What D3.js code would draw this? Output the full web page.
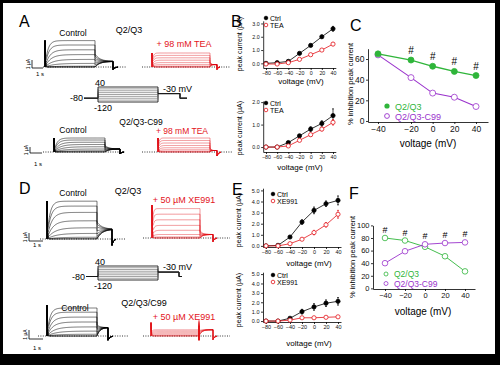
<!DOCTYPE html>
<html lang="en">
<head>
  <meta charset="UTF-8">
  <title>KCNQ2/3 currents, TEA and XE991</title>
  <style>
    body { margin: 0; background: #fff; }
    svg { display: block; }
  </style>
  <script src="https://d3js.org/d3.v7.min.js"></script>
</head>
<body>
  <div id="chart"></div>

  <script>
    // ---- data ----
    const ivVolt = [-80, -60, -40, -20, 0, 20, 40];
    const bTopCtrl = [0, 0.05, 0.15, 0.75, 1.35, 2.0, 2.6];
    const bTopCtrlErr = [0, 0, 0, 0.05, 0.08, 0.12, 0.18];
    const bTopTea = [-0.05, -0.05, 0.05, 0.3, 0.65, 1.0, 1.45];
    const bTopTeaErr = [0, 0, 0, 0.04, 0.06, 0.08, 0.12];
    const bBotCtrl = [0, 0, 0.2, 0.5, 0.8, 1.05, 1.4];
    const bBotCtrlErr = [0, 0, 0.03, 0.06, 0.1, 0.12, 0.3];
    const bBotTea = [0, 0, 0.05, 0.3, 0.55, 0.8, 1.1];
    const bBotTeaErr = [0, 0, 0.02, 0.04, 0.06, 0.08, 0.12];

    const eTopCtrl = [0, 0.05, 0.8, 2.15, 3.2, 3.8, 4.1];
    const eTopCtrlErr = [0, 0, 0.08, 0.2, 0.3, 0.25, 0.4];
    const eTopXe = [0, 0, 0.2, 0.6, 1.2, 1.9, 2.85];
    const eTopXeErr = [0, 0, 0.05, 0.1, 0.2, 0.2, 0.35];
    const eBotCtrl = [0, 0, 0.3, 1.0, 1.5, 1.9, 2.1];
    const eBotCtrlErr = [0, 0, 0.05, 0.25, 0.35, 0.35, 0.4];
    const eBotXe = [0, 0, 0.1, 0.35, 0.35, 0.4, 0.45];
    const eBotXeErr = [0, 0, 0.03, 0.05, 0.05, 0.06, 0.06];

    const inhVolt = [-40, -20, 0, 20, 40];
    const cQ23 = [65, 59, 53, 48, 44];
    const cC99 = [64, 42, 27, 23, 14];
    const cHash = [-20, 0, 20, 40];
    const fQ23 = [80, 76, 66, 51, 27];
    const fC99 = [40, 59, 70, 72, 73];
    const fHash = [-40, -20, 0, 20, 40];

    const ivTicks = [-80, -60, -40, -20, 0, 20, 40];
    const inhTicks = [-40, -20, 0, 20, 40];

    // voltage protocol steps (mV)
    const stepVolts = [-120, -100, -80, -60, -40, -20, 0, 20, 40];

    // steady current per sweep (uA), largest step first, and rise time constants (s)
    const aTopCtrl = [3.3, 2.75, 2.15, 1.55, 0.95, 0.45, 0.1, 0, 0];
    const aTopTea = [1.75, 1.45, 1.15, 0.85, 0.55, 0.3, 0.1, 0, 0];
    const aBotCtrl = [2.8, 2.4, 1.95, 1.5, 1.05, 0.6, 0.25, 0.05, 0];
    const aBotTea = [2.8, 2.3, 1.8, 1.3, 0.85, 0.45, 0.15, 0, 0];
    const dTopCtrl = [5.4, 4.7, 3.8, 2.6, 1.6, 0.8, 0.25, 0.05, 0];
    const dTopXe = [4.2, 3.4, 2.6, 1.8, 1.1, 0.5, 0.15, 0, 0];
    const dBotCtrl = [4.0, 3.4, 2.7, 2.0, 1.3, 0.7, 0.25, 0, 0];
    const dBotXe = [0.9, 0.75, 0.6, 0.45, 0.3, 0.15, 0.05, 0, 0];
    const tauSlow = [0.25, 0.3, 0.4, 0.5, 0.65, 0.8, 0.9, 0.9, 0.9];
    const tauFast = [0.08, 0.09, 0.1, 0.12, 0.14, 0.16, 0.18, 0.2, 0.2];

    const FONT = "'Liberation Sans', Arial, sans-serif";
    const RED = "#e3141b";
    const GREEN = "#2fb53a";
    const PURPLE = "#9a32cc";

    const svg = d3.select("#chart").append("svg")
        .attr("width", 500)
        .attr("height", 365)
        .style("font-family", FONT);

    svg.append("rect").attr("width", 500).attr("height", 365).attr("fill", "#000");
    svg.append("rect").attr("x", 3).attr("y", 3).attr("width", 492).attr("height", 351).attr("fill", "#fff");

    function text(x, y, s, size, opts = {}) {
      const t = svg.append("text")
          .attr("x", x).attr("y", y)
          .attr("font-size", size)
          .attr("fill", opts.color || "#000")
          .attr("text-anchor", opts.anchor || "start")
          .text(s);
      if (opts.rotate) t.attr("transform", `rotate(-90,${x},${y})`);
      return t;
    }

    // panel letters
    [["A", 19, 27], ["B", 231, 27], ["C", 350, 31], ["D", 19, 194], ["E", 232, 195], ["F", 349, 199]]
      .forEach(([s, x, y]) => text(x, y, s, 16));

    // ---- current traces ----
    // each sweep is rebuilt from its read steady level with a first-order rise
    function traces(o) {
      const t = [4.5, 1.5, 0.4];
      const x = d3.scaleLinear()
          .domain([0, t[0], t[0] + t[1], t[0] + t[1] + t[2]])
          .range(o.xr);
      const y = d3.scaleLinear().domain([0, 1]).range([o.base, o.base - o.k]);
      const line = d3.line().x(d => x(d[0])).y(d => y(d[1]));

      svg.append("line")
          .attr("x1", o.dot[0]).attr("x2", o.dot[1])
          .attr("y1", o.base).attr("y2", o.base)
          .attr("stroke", "#000").attr("stroke-width", 0.8)
          .attr("stroke-dasharray", "1,1.4");

      o.levels.forEach((L, i) => {
        const tau = o.taus[i];
        const pts = [[0, 0], [0, o.spike]];
        d3.range(1, 151).forEach(j => {
          const tt = t[0] * j / 150;
          pts.push([tt, o.spike * Math.exp(-tt / 0.03) + L * (1 - Math.exp(-tt / tau))]);
        });
        const t0 = L * o.tailFrac;
        if (o.endSpike) {
          pts.push([t[0], L + o.endSpike[0]]);
          pts.push([t[0], o.endSpike[1]]);
        }
        d3.range(0, 61).forEach(j => {
          const tt = t[1] * j / 60;
          pts.push([t[0] + tt, o.tailSS + (t0 - o.tailSS) * Math.exp(-tt / o.tailTau)]);
        });
        d3.range(0, 21).forEach(j => {
          const tt = t[2] * j / 20;
          pts.push([t[0] + t[1] + tt, -o.dip * Math.exp(-tt / 0.15)]);
        });
        svg.append("path")
            .attr("d", line(pts))
            .attr("fill", "none")
            .attr("stroke", o.color)
            .attr("stroke-width", o.lw || 0.55);
      });
    }

    function scaleBar(x, y, h, w, sLabelY) {
      svg.append("path")
          .attr("d", `M${x},${y - h}V${y}H${x + w}`)
          .attr("fill", "none").attr("stroke", "#000").attr("stroke-width", 0.8);
      text(x - 2, y - h / 2, "1 µA", 5, { rotate: true, anchor: "middle" });
      text(x + 4, sLabelY, "1 s", 6);
    }

    function protocol(o) {
      const y = d3.scaleLinear().domain([-120, 40]).range([o.bottom, o.top]);
      const line = d3.line();
      stepVolts.forEach((v, i) => {
        const pts = [[o.xs[0], y(-80)], [o.xs[1], y(-80)], [o.xs[1], y(v)], [o.xs[2], y(v)],
                     [o.xs[2], y(-30)], [o.xs[3], y(-30)], [o.xs[3], y(-80)], [o.xs[4], y(-80)]];
        const outer = i === 0 || i === stepVolts.length - 1;
        svg.append("path")
            .attr("d", line(pts))
            .attr("fill", "none")
            .attr("stroke", outer ? "#000" : "#666")
            .attr("stroke-width", outer ? 0.8 : 0.6);
      });
      text(o.xs[1] - 3, o.top - 1, "40", 9);
      text(o.xs[0] - 1, y(-80) + 3, "-80", 9, { anchor: "end" });
      text(o.xs[1] - 4, o.bottom + 9, "-120", 9);
      text(o.xs[2] + 5, y(-30) - 2, "-30 mV", 9);
    }

    // Panel A
    text(73, 36, "Control", 8.5, { anchor: "middle" });
    text(129, 33, "Q2/Q3", 9, { anchor: "middle" });
    text(184, 47, "+ 98 mM TEA", 9, { anchor: "middle", color: RED });
    traces({ xr: [45, 95, 113, 118], base: 67, k: 8, spike: 3.3, levels: aTopCtrl, taus: tauSlow,
             tailFrac: 0.5, tailSS: 0.7, tailTau: 0.4, dip: 0.3, color: "#000", dot: [43, 127] });
    traces({ xr: [152, 210, 217, 220], base: 67, k: 8, spike: 1.75, levels: aTopTea, taus: tauFast,
             tailFrac: 0.4, tailSS: 0.3, tailTau: 0.2, dip: 0.3, color: RED, dot: [142, 230], lw: 0.45 });
    scaleBar(32, 68, 8, 11, 76);
    protocol({ xs: [84, 98, 158, 180, 187], top: 87, bottom: 102 });

    text(141, 125, "Q2/Q3-C99", 8.5, { anchor: "middle" });
    text(73, 133, "Control", 8.5, { anchor: "middle" });
    text(182, 134, "+ 98 mM TEA", 8.5, { anchor: "middle", color: RED });
    traces({ xr: [54, 105, 120, 124], base: 152, k: 5, spike: 2.8, levels: aBotCtrl, taus: tauSlow,
             tailFrac: 0.45, tailSS: 0.6, tailTau: 0.4, dip: 0.4, color: "#000", dot: [43, 125] });
    traces({ xr: [158, 210, 217, 221], base: 152, k: 5, spike: 2.8, levels: aBotTea, taus: tauFast,
             tailFrac: 0.35, tailSS: 0.3, tailTau: 0.2, dip: 0.8, color: RED, dot: [142, 233], lw: 0.45 });
    scaleBar(30, 153, 6, 12, 166);

    // Panel D
    text(73, 196, "Control", 8.5, { anchor: "middle" });
    text(128, 194, "Q2/Q3", 9, { anchor: "middle" });
    text(184, 203, "+ 50 µM XE991", 9, { anchor: "middle", color: RED });
    traces({ xr: [47, 97, 112, 116], base: 239, k: 7, spike: 5.4, levels: dTopCtrl, taus: tauSlow,
             tailFrac: 0.45, tailSS: 1.4, tailTau: 0.5, dip: 0.9, color: "#000", dot: [40, 125] });
    traces({ xr: [152, 200, 213, 217], base: 238, k: 7, spike: 4.7, levels: dTopXe, taus: tauFast,
             tailFrac: 0.25, tailSS: 0.5, tailTau: 0.3, dip: 0.5, color: RED, dot: [143, 230], lw: 0.45 });
    scaleBar(29, 241, 8, 14, 247);
    protocol({ xs: [86, 98, 158, 179, 182], top: 266, bottom: 280 });

    text(144, 306, "Q2/Q3/C99", 9, { anchor: "middle" });
    text(75, 311, "Control", 8.5, { anchor: "middle" });
    text(184, 320, "+ 50 µM XE991", 9, { anchor: "middle", color: RED });
    traces({ xr: [47, 97, 108, 113], base: 336, k: 7, spike: 4.4, levels: dBotCtrl, taus: tauSlow,
             tailFrac: 0.4, tailSS: 1.2, tailTau: 0.4, dip: 0.6, color: "#000", dot: [38, 128] });
    traces({ xr: [151, 199, 213, 217], base: 336, k: 7, spike: 1.9, levels: dBotXe, taus: tauFast,
             tailFrac: 0.9, tailSS: 0.9, tailTau: 0.3, dip: 0.5, endSpike: [1.4, -0.6],
             color: RED, dot: [143, 230], lw: 0.35 });
    scaleBar(29, 339, 9, 14, 350);

    // ---- x/y plots ----
    function xyPlot(p) {
      const g = svg.append("g");
      const x0 = p.x.range()[0];
      const y0 = p.y.range()[0];
      const yAx = g.append("g")
          .attr("transform", `translate(${x0},0)`)
          .call(d3.axisLeft(p.y).tickValues(p.yTicks).tickSize(2).tickSizeOuter(0).tickPadding(1.5));
      const xAx = g.append("g")
          .attr("transform", `translate(0,${y0})`)
          .call(d3.axisBottom(p.x).tickValues(p.xTicks).tickSize(2).tickSizeOuter(0).tickPadding(1.5));
      [yAx, xAx].forEach(a => {
        a.selectAll("path, line").attr("stroke", "#000").attr("stroke-width", 0.8);
        a.selectAll("text").attr("font-family", FONT).attr("font-size", p.tickSize).attr("fill", "#111");
      });

      p.series.forEach(s => {
        const pts = s.volt.map((v, i) => ({ v, m: s.values[i], e: s.err ? s.err[i] : 0 }));
        g.append("path")
            .attr("d", d3.line().x(d => p.x(d.v)).y(d => p.y(d.m))(pts))
            .attr("fill", "none")
            .attr("stroke", s.color)
            .attr("stroke-width", s.lw || 0.8);
        g.selectAll(null).data(pts.filter(d => d.e > 0)).join("path")
            .attr("d", d => {
              const xx = p.x(d.v), a = p.y(d.m + d.e), b = p.y(d.m - d.e);
              return `M${xx},${a}V${b}M${xx - 1},${a}H${xx + 1}M${xx - 1},${b}H${xx + 1}`;
            })
            .attr("stroke", s.color).attr("stroke-width", 0.7).attr("fill", "none");
        g.selectAll(null).data(pts).join("circle")
            .attr("cx", d => p.x(d.v))
            .attr("cy", d => p.y(d.m))
            .attr("r", p.r)
            .attr("fill", s.filled ? s.color : "#fff")
            .attr("stroke", s.color)
            .attr("stroke-width", 0.8);
      });
    }

    function ivLegend(x, y, labels) {
      labels.forEach(([lab, color, filled], i) => {
        svg.append("circle")
            .attr("cx", x).attr("cy", y + i * 7).attr("r", 1.8)
            .attr("fill", filled ? color : "#fff").attr("stroke", color).attr("stroke-width", 0.8);
        text(x + 4, y + i * 7 + 2.5, lab, 7, { color: "#000" });
      });
    }

    const ivX = d3.scaleLinear().domain([-85, 45]).range([263.2, 335.8]);
    const ivXE = d3.scaleLinear().domain([-85, 45]).range([263, 341]);

    // Panel B
    xyPlot({
      x: ivX, y: d3.scaleLinear().domain([-0.35, 3.2]).range([68, 20.8]),
      xTicks: ivTicks, yTicks: [0, 1, 2, 3], tickSize: 5.3, r: 2.1,
      series: [
        { volt: ivVolt, values: bTopCtrl, err: bTopCtrlErr, color: "#000", filled: true },
        { volt: ivVolt, values: bTopTea, err: bTopTeaErr, color: RED, filled: false }
      ]
    });
    ivLegend(266, 18, [["Ctrl", "#000", true], ["TEA", RED, false]]);
    text(242, 44, "peak current (µA)", 7, { rotate: true, anchor: "middle" });
    text(301, 84, "voltage (mV)", 8, { anchor: "middle" });

    xyPlot({
      x: ivX, y: d3.scaleLinear().domain([-0.22, 2.05]).range([152, 101]),
      xTicks: ivTicks, yTicks: [0, 1, 2], tickSize: 5.3, r: 2.1,
      series: [
        { volt: ivVolt, values: bBotCtrl, err: bBotCtrlErr, color: "#000", filled: true },
        { volt: ivVolt, values: bBotTea, err: bBotTeaErr, color: RED, filled: false }
      ]
    });
    ivLegend(266, 103, [["Ctrl", "#000", true], ["TEA", RED, false]]);
    text(242, 128, "peak current (µA)", 7, { rotate: true, anchor: "middle" });
    text(300, 170, "voltage (mV)", 8, { anchor: "middle" });

    // Panel E
    xyPlot({
      x: ivXE, y: d3.scaleLinear().domain([-0.1, 5.2]).range([247, 188.2]),
      xTicks: ivTicks, yTicks: [0, 1, 2, 3, 4, 5], tickSize: 5.5, r: 2.1,
      series: [
        { volt: ivVolt, values: eTopCtrl, err: eTopCtrlErr, color: "#000", filled: true },
        { volt: ivVolt, values: eTopXe, err: eTopXeErr, color: RED, filled: false }
      ]
    });
    ivLegend(273, 194, [["Ctrl", "#000", true], ["XE991", RED, false]]);
    text(241, 220, "peak current (µA)", 7, { rotate: true, anchor: "middle" });
    text(309, 266, "voltage (mV)", 8, { anchor: "middle" });

    xyPlot({
      x: ivXE, y: d3.scaleLinear().domain([-0.1, 5.2]).range([322, 272.2]),
      xTicks: ivTicks, yTicks: [0, 1, 2, 3, 4, 5], tickSize: 5.5, r: 2.1,
      series: [
        { volt: ivVolt, values: eBotCtrl, err: eBotCtrlErr, color: "#000", filled: true },
        { volt: ivVolt, values: eBotXe, err: eBotXeErr, color: RED, filled: false }
      ]
    });
    ivLegend(273, 275, [["Ctrl", "#000", true], ["XE991", RED, false]]);
    text(241, 300, "peak current (µA)", 7, { rotate: true, anchor: "middle" });
    text(309, 346, "voltage (mV)", 8, { anchor: "middle" });

    // Panel C
    const cX = d3.scaleLinear().domain([-46, -40, -20, 40, 47]).range([368, 378, 411, 476, 488]);
    const cY = d3.scaleLinear().domain([-1, 70]).range([122, 48.7]);
    xyPlot({
      x: cX, y: cY, xTicks: inhTicks, yTicks: [0, 20, 40, 60], tickSize: 8.5, r: 3,
      series: [
        { volt: inhVolt, values: cC99, color: PURPLE, filled: false, lw: 1.1 },
        { volt: inhVolt, values: cQ23, color: GREEN, filled: true, lw: 1.3 }
      ]
    });
    cHash.forEach(v => {
      const i = inhVolt.indexOf(v);
      text(cX(v), cY(cQ23[i]) - 6, "#", 10, { anchor: "middle" });
    });
    svg.append("circle").attr("cx", 387).attr("cy", 106).attr("r", 2.6).attr("fill", GREEN);
    text(395, 109.5, "Q2/Q3", 9, { color: GREEN });
    svg.append("circle").attr("cx", 387).attr("cy", 116).attr("r", 2.4)
        .attr("fill", "#fff").attr("stroke", PURPLE).attr("stroke-width", 0.9);
    text(395, 119.5, "Q2/Q3-C99", 9, { color: PURPLE });
    text(353, 84, "% inhibition peak current", 7.5, { rotate: true, anchor: "middle" });
    text(428, 147, "voltage (mV)", 10, { anchor: "middle" });

    // Panel F
    const fX = d3.scaleLinear().domain([-52, 50]).range([373, 475]);
    const fY = d3.scaleLinear().domain([-1, 100]).range([289, 225.4]);
    xyPlot({
      x: fX, y: fY, xTicks: inhTicks, yTicks: [0, 20, 40, 60, 80, 100], tickSize: 7.5, r: 2.8,
      series: [
        { volt: inhVolt, values: fQ23, color: GREEN, filled: false, lw: 0.9 },
        { volt: inhVolt, values: fC99, color: PURPLE, filled: false, lw: 0.9 }
      ]
    });
    fHash.forEach(v => {
      const i = inhVolt.indexOf(v);
      text(fX(v), fY(Math.max(fQ23[i], fC99[i])) - 5, "#", 9, { anchor: "middle" });
    });
    svg.append("circle").attr("cx", 386).attr("cy", 274).attr("r", 2)
        .attr("fill", "#fff").attr("stroke", GREEN).attr("stroke-width", 0.8);
    text(394, 277, "Q2/Q3", 8.5, { color: GREEN });
    svg.append("circle").attr("cx", 386).attr("cy", 283.5).attr("r", 2)
        .attr("fill", "#fff").attr("stroke", PURPLE).attr("stroke-width", 0.8);
    text(394, 286.5, "Q2/Q3-C99", 8.5, { color: PURPLE });
    text(355, 257, "% inhibition peak current", 7.5, { rotate: true, anchor: "middle" });
    text(423, 315, "voltage (mV)", 10, { anchor: "middle" });
  </script>
</body>
</html>
